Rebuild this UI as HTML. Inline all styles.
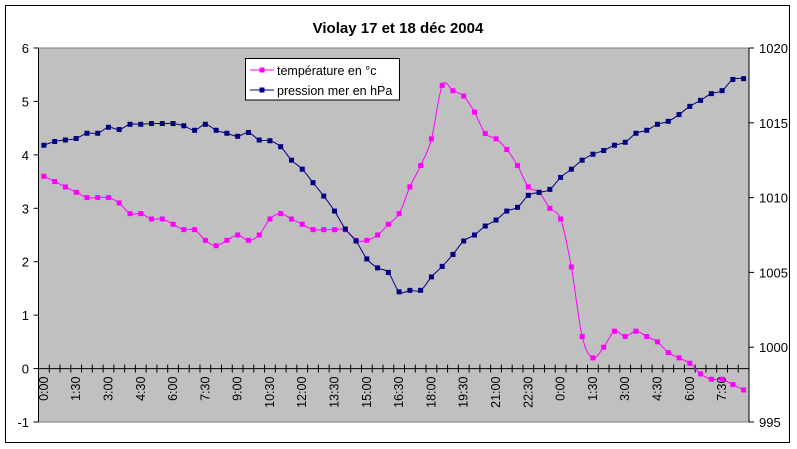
<!DOCTYPE html>
<html><head><meta charset="utf-8"><style>
body{margin:0;background:#fff;width:797px;height:449px;overflow:hidden}
svg{display:block}
text{font-family:"Liberation Sans",Arial,sans-serif;fill:#000}
</style></head><body>
<svg id="s" width="797" height="449" xmlns="http://www.w3.org/2000/svg">
<rect x="0" y="0" width="797" height="449" fill="#fff"/>
<rect x="5.5" y="5.5" width="784" height="437" fill="none" stroke="#000" stroke-width="1"/>
<text x="398" y="33" font-size="15" font-weight="bold" text-anchor="middle">Violay 17 et 18 déc 2004</text>
<rect x="38.5" y="48" width="710.5" height="374" fill="#c0c0c0" stroke="#808080" stroke-width="1"/>
<g id="axes"></g>
<g id="series"></g>
<rect x="245.5" y="58.5" width="154" height="41.5" fill="#fff" stroke="#000" stroke-width="1"/>
<line x1="250" y1="70" x2="274" y2="70" stroke="#ff00ff" stroke-width="1"/>
<rect x="259.5" y="67.5" width="5" height="5" fill="#ff00ff"/>
<text x="277" y="75" font-size="12.5">température en °c</text>
<line x1="250" y1="90" x2="274" y2="90" stroke="#000080" stroke-width="1"/>
<rect x="259.5" y="87.5" width="5" height="5" fill="#000080"/>
<text x="277" y="95" font-size="12.5">pression mer en hPa</text>
</svg>
<script>
var NS="http://www.w3.org/2000/svg";
function el(p,t,a,txt){var e=document.createElementNS(NS,t);for(var k in a)e.setAttribute(k,a[k]);if(txt!==undefined)e.textContent=txt;p.appendChild(e);return e;}
var ax=document.getElementById("axes"),se=document.getElementById("series");
var L=38.5,R=749,T=48,B=422,n=66,w=(R-L)/n;
var zy=48+6*53.43;
// left axis
el(ax,"line",{x1:L,y1:T,x2:L,y2:B,stroke:"#000"});
for(var k=0;k<=7;k++){var y=T+k*53.43;el(ax,"line",{x1:L-5,y1:y,x2:L,y2:y,stroke:"#000"});
el(ax,"text",{x:29,y:y+5,"font-size":13,"text-anchor":"end"},String(6-k));}
// right axis
el(ax,"line",{x1:R,y1:T,x2:R,y2:B,stroke:"#000"});
for(var k=0;k<=5;k++){var y=T+k*74.8;el(ax,"line",{x1:R,y1:y,x2:R+5,y2:y,stroke:"#000"});
el(ax,"text",{x:759,y:y+5,"font-size":13},String(1020-5*k));}
// x axis
el(ax,"line",{x1:L,y1:zy,x2:R,y2:zy,stroke:"#000"});
for(var i=0;i<=n;i++){var x=L+i*w;el(ax,"line",{x1:x,y1:zy-4,x2:x,y2:zy+4,stroke:"#000"});}
var labs=["0:00","1:30","3:00","4:30","6:00","7:30","9:00","10:30","12:00","13:30","15:00","16:30","18:00","19:30","21:00","22:30","0:00","1:30","3:00","4:30","6:00","7:30"];
for(var j=0;j<labs.length;j++){var x=L+(j*3+0.5)*w+4;
el(ax,"text",{x:0,y:0,"font-size":12.5,"text-anchor":"end",transform:"translate("+x+","+(zy+8)+") rotate(-90)"},labs[j]);}
var Tv=[3.6,3.5,3.4,3.3,3.2,3.2,3.2,3.1,2.9,2.9,2.8,2.8,2.7,2.6,2.6,2.4,2.3,2.4,2.5,2.4,2.5,2.8,2.9,2.8,2.7,2.6,2.6,2.6,2.6,2.4,2.4,2.5,2.7,2.9,3.4,3.8,4.3,5.3,5.2,5.1,4.8,4.4,4.3,4.1,3.8,3.4,3.3,3.0,2.8,1.9,0.6,0.2,0.4,0.7,0.6,0.7,0.6,0.5,0.3,0.2,0.1,-0.1,-0.2,-0.2,-0.3,-0.4];
var Pv=[1013.5,1013.75,1013.85,1013.95,1014.3,1014.3,1014.7,1014.55,1014.9,1014.9,1014.95,1014.95,1014.95,1014.8,1014.5,1014.9,1014.5,1014.3,1014.1,1014.35,1013.85,1013.8,1013.4,1012.5,1011.9,1011.0,1010.1,1009.1,1007.9,1007.1,1005.9,1005.3,1005.0,1003.7,1003.8,1003.8,1004.7,1005.4,1006.2,1007.1,1007.5,1008.1,1008.5,1009.1,1009.35,1010.15,1010.35,1010.55,1011.35,1011.9,1012.5,1012.9,1013.15,1013.5,1013.7,1014.3,1014.5,1014.9,1015.1,1015.55,1016.1,1016.5,1016.95,1017.15,1017.9,1017.95];
function draw(vals,fy,col,ms){
var p=vals.map(function(v,i){return [L+(i+0.5)*w,fy(v)];});
var d="M"+p[0][0]+","+p[0][1];
for(var i=0;i<p.length-1;i++){var p0=p[i-1]||p[i],p1=p[i],p2=p[i+1],p3=p[i+2]||p2,t=1/6;
d+=" C"+(p1[0]+(p2[0]-p0[0])*t)+","+(p1[1]+(p2[1]-p0[1])*t)+" "+(p2[0]-(p3[0]-p1[0])*t)+","+(p2[1]-(p3[1]-p1[1])*t)+" "+p2[0]+","+p2[1];}
el(se,"path",{d:d,fill:"none",stroke:col,"stroke-width":1});
p.forEach(function(q){el(se,"rect",{x:q[0]-ms/2,y:q[1]-ms/2,width:ms,height:ms,fill:col});});
}
draw(Tv,function(v){return 48+(6-v)*53.43;},"#ff00ff",5);
draw(Pv,function(v){return 48+(1020-v)*14.96;},"#000080",5);
</script>
</body></html>
